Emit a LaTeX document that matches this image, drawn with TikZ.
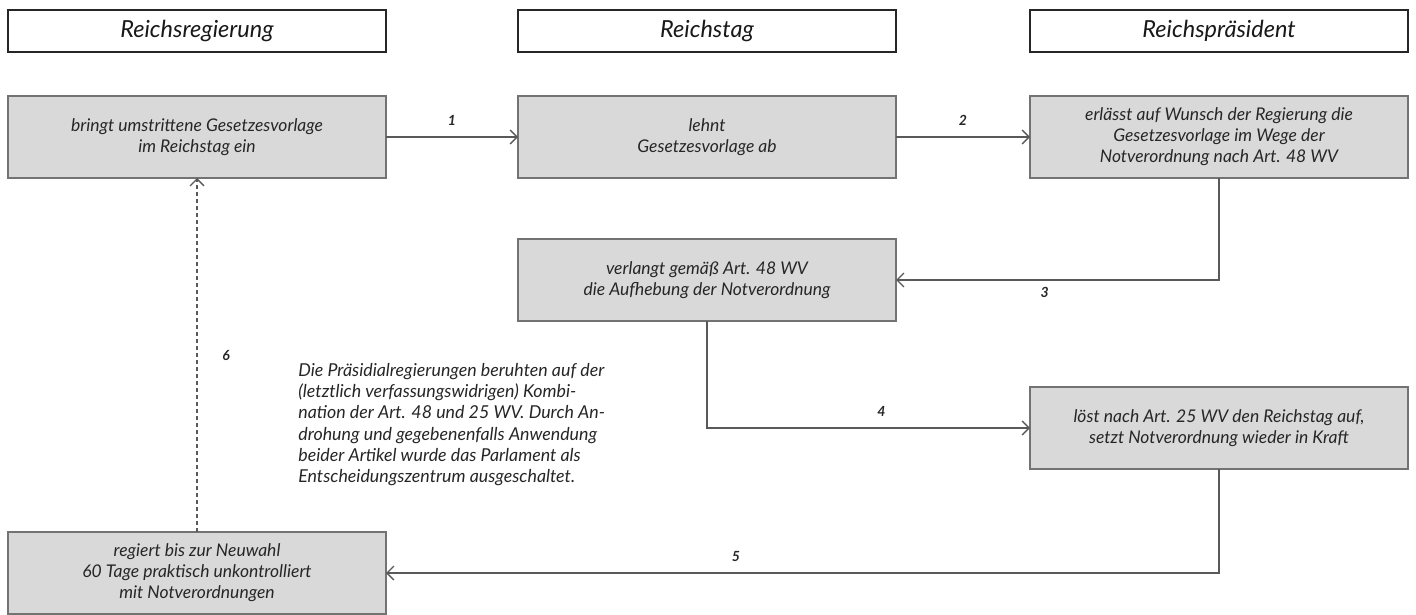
\documentclass[tikz,border=0pt]{standalone}
\usepackage{fontspec}
\setmainfont{Lato}
\usetikzlibrary{positioning,arrows.meta}

\begin{document}
\begin{tikzpicture}[
  x=1pt, y=-1pt,
  every node/.style={font=\itshape, text=black!85, outer sep=0pt},
  hdr/.style={draw=black!85, line width=2pt, fill=white, minimum width=378pt, minimum height=42pt, text=black!90, font=\fontsize{23.5}{26}\selectfont\itshape},
  act/.style={draw=black!55, line width=1.6pt, fill=black!15, minimum width=378pt, minimum height=82pt, align=center, font=\fontsize{17.5}{21}\selectfont\itshape},
  arr/.style={-{Straight Barb[length=7pt, width=14pt]}, line width=1.3pt, draw=black!65},
  darr/.style={arr, dash pattern=on 4pt off 3pt},
  num/.style={font=\fontsize{14}{16}\selectfont\bfseries\itshape},
]
\useasboundingbox (0,0) rectangle (1416,615);
% Spaltenkoepfe
\node[hdr] (hreg) at (197,31) {Reichsregierung};
\node[hdr, right=132pt of hreg] (htag) {Reichstag};
\node[hdr, right=134pt of htag] (hpraes) {Reichspräsident};
% Ablauf
\node[act, below=44pt of hreg] (einbringen) {bringt umstrittene Gesetzesvorlage\\im Reichstag ein};
\node[act, below=44pt of htag] (ablehnen) {lehnt\\Gesetzesvorlage ab};
\node[act, below=44pt of hpraes] (erlass) {erlässt auf Wunsch der Regierung die\\Gesetzesvorlage im Wege der\\Notverordnung nach Art. 48 WV};
\node[act, below=61pt of ablehnen] (aufhebung) {verlangt gemäß Art. 48 WV\\die Aufhebung der Notverordnung};
\node[act, below=209pt of erlass] (aufloesung) {löst nach Art. 25 WV den Reichstag auf,\\setzt Notverordnung wieder in Kraft};
\node[act, below=354pt of einbringen] (neuwahl) {regiert bis zur Neuwahl\\60 Tage praktisch unkontrolliert\\mit Notverordnungen};
\node[anchor=north west, align=left, font=\fontsize{17.8}{21.2}\selectfont\itshape] (hinweis) at (295,360) {%
  Die Präsidialregierungen beruhten auf der\\
  (letztlich verfassungswidrigen) Kombi-\\
  nation der Art. 48 und 25 WV. Durch An-\\
  drohung und gegebenenfalls Anwendung\\
  beider Artikel wurde das Parlament als\\
  Entscheidungszentrum ausgeschaltet.};
% Pfeile
\draw[arr] (einbringen) -- node[num, above=8pt]{1} (ablehnen);
\draw[arr] (ablehnen) -- node[num, above=8pt]{2} (erlass);
\draw[arr] (erlass.south) |- node[num, pos=.77, below=4pt]{3} (aufhebung.east);
\draw[arr] (aufhebung.south) |- node[num, pos=.77, above=8pt]{4} (aufloesung.west);
\draw[arr] (aufloesung.south) |- node[num, pos=.79, above=8pt]{5} (neuwahl.east);
\draw[darr] (neuwahl) -- node[num, right=22pt]{6} (einbringen);
\end{tikzpicture}
\end{document}
